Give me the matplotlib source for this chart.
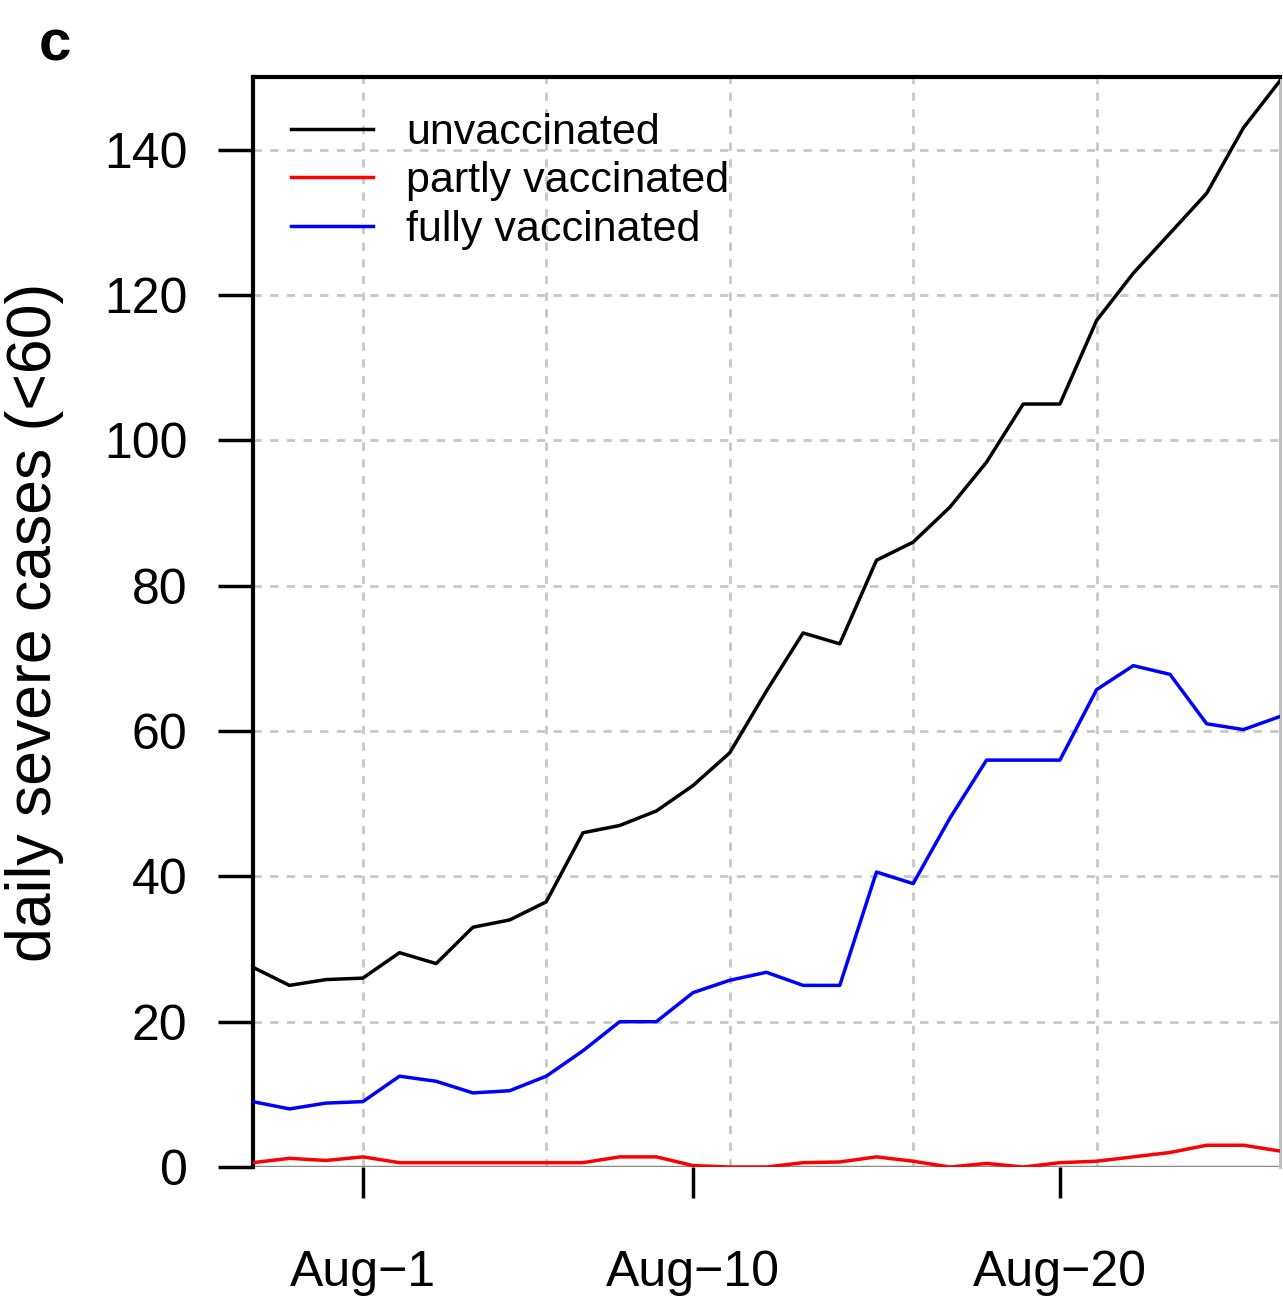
import matplotlib
matplotlib.use("Agg")
import matplotlib.pyplot as plt
import numpy as np
import pandas as pd

plt.rcParams['font.family'] = ['Liberation Sans', 'DejaVu Sans']

# daily series, Jul 29 - Aug 26
dates = pd.date_range('2021-07-29', '2021-08-26', freq='D')
unvaccinated = [27.5, 25, 25.8, 26, 29.5, 28, 33, 34, 36.5, 46, 47, 49, 52.5, 57,
                65.5, 73.5, 72, 83.5, 86, 90.8, 97, 105, 105, 116.5, 123, 128.5,
                134, 143, 149.5]
partly = [0.6, 1.2, 0.9, 1.4, 0.6, 0.6, 0.6, 0.6, 0.6, 0.6, 1.4, 1.4, 0.2, 0,
          0, 0.6, 0.7, 1.4, 0.8, 0, 0.5, 0, 0.6, 0.8, 1.4, 2.0, 3.0, 3.0, 2.2]
fully = [9, 8, 8.8, 9, 12.5, 11.8, 10.2, 10.5, 12.5, 16, 20, 20, 24, 25.7,
         26.8, 25, 25, 40.6, 39, 48, 56, 56, 56, 65.7, 69, 67.8, 61, 60.2, 62]

tick_dates = pd.to_datetime(['2021-08-01', '2021-08-10', '2021-08-20'])
tick_labels = ['Aug\u22121', 'Aug\u221210', 'Aug\u221220']
grid_dates = pd.to_datetime(['2021-08-01', '2021-08-06', '2021-08-11',
                             '2021-08-16', '2021-08-21'])
y_ticks = [0, 20, 40, 60, 80, 100, 120, 140]

fig = plt.figure(figsize=(12.83, 12.97), dpi=100)
ax = fig.add_axes([0.197, 0.1002, 0.8007, 0.8404])

# dashed grid
for v in y_ticks[1:]:
    ax.axhline(v, color='#c8c8c8', lw=2, ls=(0, (3, 3)), zorder=1)
for d in grid_dates:
    ax.axvline(d, color='#c8c8c8', lw=2, ls=(0, (3, 3)), zorder=1)
ax.axhline(0, color='#888888', lw=2.5, zorder=1)

ax.plot(dates, unvaccinated, color='black', lw=2.5, label='unvaccinated', zorder=3)
ax.plot(dates, partly, color='red', lw=2.5, label='partly vaccinated', zorder=3)
ax.plot(dates, fully, color='blue', lw=2.5, label='fully vaccinated', zorder=3)

ax.set_xlim(dates[0], dates[-1])
ax.set_ylim(0, 150)

ax.set_yticks(y_ticks)
ax.set_xticks(tick_dates)
ax.set_xticklabels(tick_labels)
ax.tick_params(axis='y', length=25, width=2.5, labelsize=36, pad=22)
ax.tick_params(axis='x', length=22, width=2.5, labelsize=36, pad=38)

for side in ['left', 'top']:
    ax.spines[side].set_linewidth(3)
    ax.spines[side].set_color('black')
ax.spines['right'].set_color('#bbbbbb')
ax.spines['right'].set_linewidth(2)
ax.spines['bottom'].set_visible(False)

ax.set_ylabel('daily severe cases (<60)', fontsize=45, va='center')
ax.yaxis.set_label_coords(-0.212, 0.5)

ax.legend(loc='upper left', frameon=False, fontsize=31, handlelength=1.9,
          handletextpad=0.77, labelspacing=0.2, borderaxespad=0.3,
          bbox_to_anchor=(0.008, 0.995))

fig.text(0.043, 0.965, 'c', fontsize=42, fontweight='bold', va='center', ha='center')

fig.savefig('out.png', dpi=100)
